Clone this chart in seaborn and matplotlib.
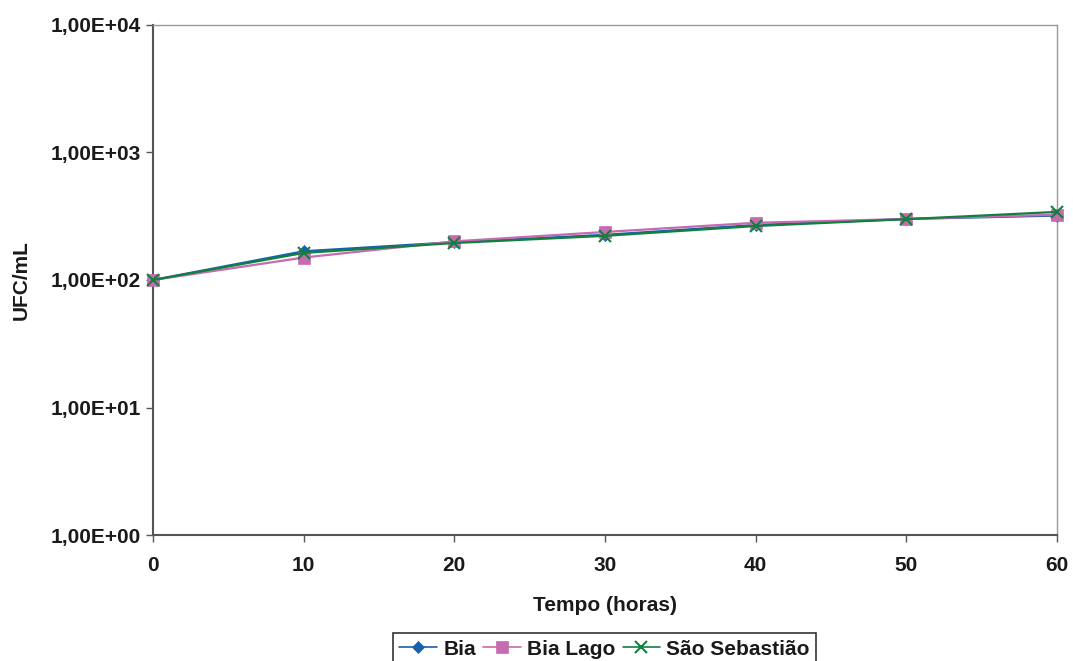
import matplotlib
matplotlib.use("Agg")
import matplotlib.pyplot as plt
import seaborn as sns
import pandas as pd
import numpy as np
from matplotlib.ticker import FixedLocator, NullLocator

tempo = [0, 10, 20, 30, 40, 50, 60]
bia = [100, 168, 198, 226, 270, 301, 320]
bia_lago = [100, 150, 201, 238, 281, 301, 325]
sao_sebastiao = [100, 163, 195, 222, 265, 300, 342]
series_names = ["Bia", "Bia Lago", "São Sebastião"]
y_ticks = [1, 10, 100, 1000, 10000]
y_labels = ["1,00E+00", "1,00E+01", "1,00E+02", "1,00E+03", "1,00E+04"]

df = pd.DataFrame({
    "Tempo": tempo * 3,
    "UFC": bia + bia_lago + sao_sebastiao,
    "Serie": [series_names[0]] * 7 + [series_names[1]] * 7 + [series_names[2]] * 7,
})

sns.set_theme(style="white")
plt.rcParams['font.family'] = ['Liberation Sans', 'DejaVu Sans']

fig = plt.figure(figsize=(10.73, 6.61), dpi=100)
ax = fig.add_axes([0.1426, 0.1906, 0.8425, 0.7716])

palette = {"Bia": "#1660B0", "Bia Lago": "#C86AB0", "São Sebastião": "#11803F"}
markers = {"Bia": "D", "Bia Lago": "s", "São Sebastião": "x"}
sizes = {"Bia": 6, "Bia Lago": 8, "São Sebastião": 9}

for name in series_names:
    sub = df[df["Serie"] == name]
    sns.lineplot(data=sub, x="Tempo", y="UFC", ax=ax, color=palette[name],
                 marker=markers[name], markersize=sizes[name], linewidth=1.6,
                 markeredgecolor=palette[name], markeredgewidth=1.5 if name == "São Sebastião" else 0.5,
                 label=name, clip_on=False, zorder=3)

ax.set_yscale("log")
ax.set_ylim(1, 10000)
ax.set_xlim(0, 60)
ax.yaxis.set_major_locator(FixedLocator(y_ticks))
ax.yaxis.set_minor_locator(NullLocator())
ax.set_yticklabels(y_labels)
ax.set_xticks(tempo)
ax.set_xticklabels([str(t) for t in tempo])

FS = 15
for lab in ax.get_xticklabels() + ax.get_yticklabels():
    lab.set_fontweight("bold")
    lab.set_fontsize(FS)
    lab.set_color("#1a1a1a")

ax.tick_params(axis="both", which="major", direction="out", length=5, width=1,
               color="#555555", left=True, bottom=True)
ax.tick_params(axis="x", pad=10)
ax.tick_params(axis="y", pad=4)

for s in ["top", "right"]:
    ax.spines[s].set_color("#999999")
    ax.spines[s].set_linewidth(1)
for s in ["left", "bottom"]:
    ax.spines[s].set_color("#555555")
    ax.spines[s].set_linewidth(1.5)

ax.set_xlabel("Tempo (horas)", fontsize=FS, fontweight="bold", labelpad=15, color="#1a1a1a")
ax.set_ylabel("UFC/mL", fontsize=FS, fontweight="bold", labelpad=14, color="#1a1a1a")

leg = ax.legend(loc="lower center", ncol=3, frameon=True, fancybox=False, fontsize=FS,
                handlelength=1.8, handletextpad=0.3, columnspacing=0.35, borderpad=0.3,
                borderaxespad=0)
leg.set_bbox_to_anchor((0.5635, -0.006), transform=fig.transFigure)
leg.get_frame().set_edgecolor("black")
leg.get_frame().set_linewidth(1.2)
for t in leg.get_texts():
    t.set_fontweight("bold")
    t.set_color("#1a1a1a")
for h in leg.get_lines():
    h.set_linewidth(1.2)

fig.savefig("out.png", dpi=100)
